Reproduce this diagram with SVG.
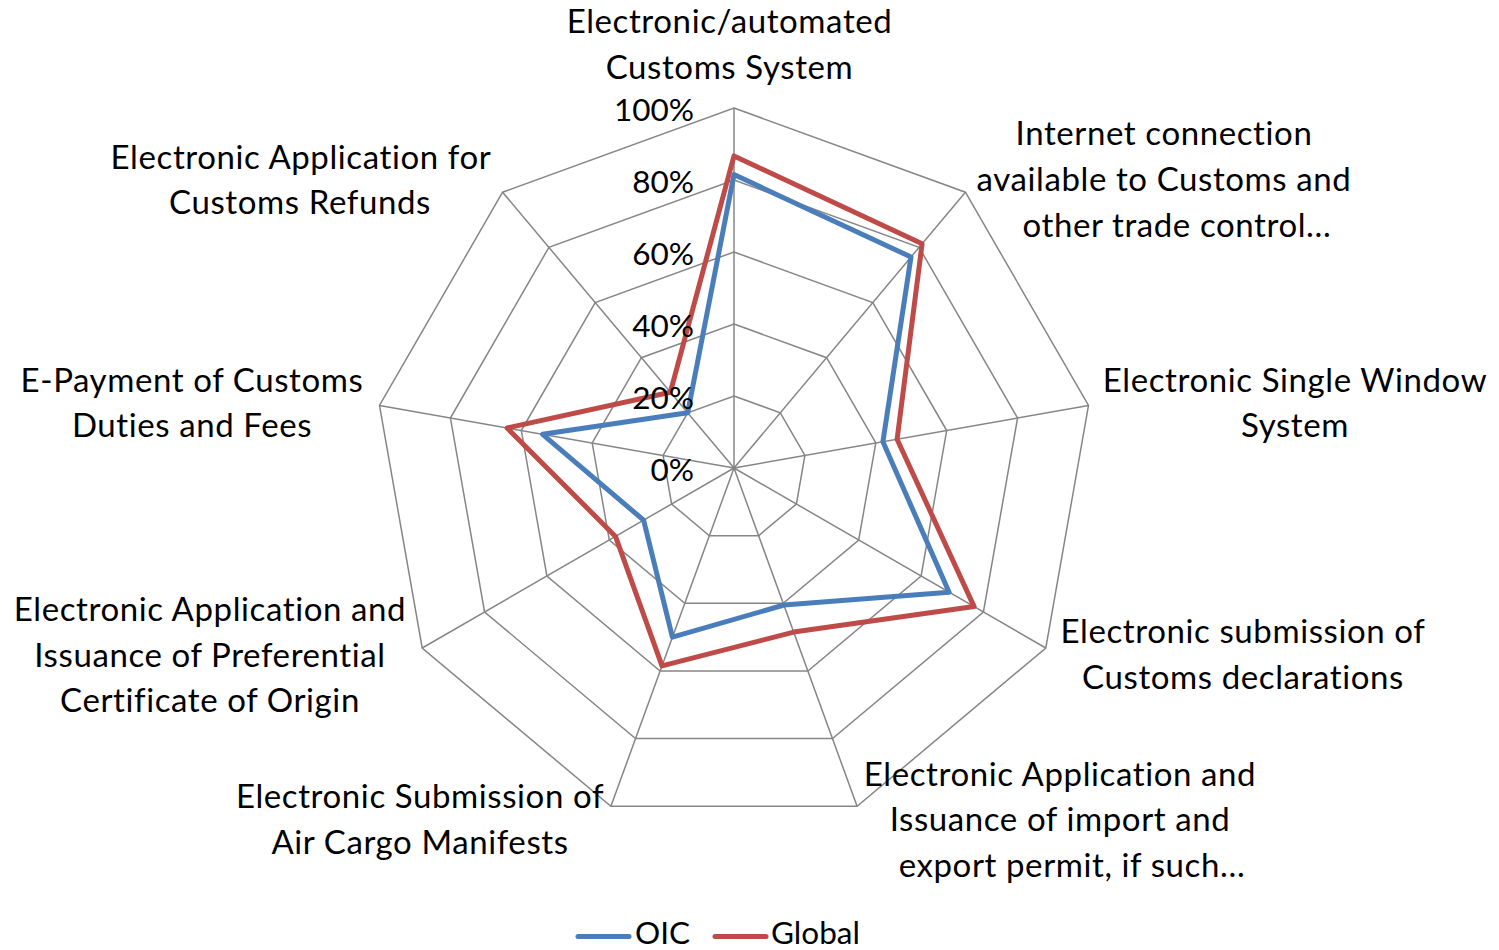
<svg xmlns="http://www.w3.org/2000/svg" width="1499" height="950" viewBox="0 0 1499 950">
<style>
.grid{fill:none;stroke:#868686;stroke-width:1.5}
.lbl{font-family:Lato,"Liberation Sans",sans-serif;font-size:33px;letter-spacing:0.6px;fill:#000;text-anchor:middle}
.tick{font-family:Lato,"Liberation Sans",sans-serif;font-size:31.5px;fill:#000;text-anchor:end}
.leg{font-family:Lato,"Liberation Sans",sans-serif;font-size:31.5px;fill:#000}
.oic{fill:none;stroke:#4a7ebb;stroke-width:5;stroke-linejoin:round;stroke-linecap:round}
.glb{fill:none;stroke:#be4b48;stroke-width:5;stroke-linejoin:round;stroke-linecap:round}
</style>
<rect width="1499" height="950" fill="#fff"/>
<g id="grid">
<polygon class="grid" points="734,108 965.4,192.2 1088.5,405.5 1045.8,648 857.1,806.3 610.9,806.3 422.2,648 379.5,405.5 502.6,192.2"/>
<polygon class="grid" points="734,180 919.1,247.4 1017.6,418 983.4,612 832.5,738.6 635.5,738.6 484.6,612 450.4,418 548.9,247.4"/>
<polygon class="grid" points="734,252 872.8,302.5 946.7,430.5 921.1,576 807.9,671 660.1,671 546.9,576 521.3,430.5 595.2,302.5"/>
<polygon class="grid" points="734,324 826.6,357.7 875.8,443 858.7,540 783.2,603.3 684.8,603.3 609.3,540 592.2,443 641.4,357.7"/>
<polygon class="grid" points="734,396 780.3,412.8 804.9,455.5 796.4,504 758.6,535.7 709.4,535.7 671.6,504 663.1,455.5 687.7,412.8"/>
<path class="grid" d="M734,468L734,108M734,468L965.4,192.2M734,468L1088.5,405.5M734,468L1045.8,648M734,468L857.1,806.3M734,468L610.9,806.3M734,468L422.2,648M734,468L379.5,405.5M734,468L502.6,192.2"/>
</g>
<g id="series">
<polygon id="series-oic" class="oic" points="734,174.6 911,257 882.9,441.8 949.1,592.2 783.9,605 672.4,637.1 643.6,520.2 542.6,434.3 687.7,412.8"/>
<polygon id="series-global" class="glb" points="734,155.9 922.1,243.8 897.1,439.3 974.1,606.6 793.7,632.1 662,665.9 615.5,536.4 507.1,428 670.4,392.2"/>
</g>
<g id="ticks">
<text class="tick" x="694" y="121">100%</text>
<text class="tick" x="694" y="193">80%</text>
<text class="tick" x="694" y="265">60%</text>
<text class="tick" x="694" y="337">40%</text>
<text class="tick" x="694" y="409">20%</text>
<text class="tick" x="694" y="481">0%</text>
</g>
<g id="label-automated"><text class="lbl" x="729.5" y="33">Electronic/automated</text><text class="lbl" x="729.5" y="79">Customs System</text></g>
<g id="label-internet"><text class="lbl" x="1164" y="145">Internet connection</text><text class="lbl" x="1164" y="191">available to Customs and</text><text class="lbl" x="1177" y="237">other trade control…</text></g>
<g id="label-single-window"><text class="lbl" x="1295" y="392">Electronic Single Window</text><text class="lbl" x="1295" y="437">System</text></g>
<g id="label-declarations"><text class="lbl" x="1243" y="643">Electronic submission of</text><text class="lbl" x="1243" y="689">Customs declarations</text></g>
<g id="label-permit"><text class="lbl" x="1060" y="786">Electronic Application and</text><text class="lbl" x="1060" y="831">Issuance of import and</text><text class="lbl" x="1072" y="877">export permit, if such…</text></g>
<g id="label-air-cargo"><text class="lbl" x="420" y="808">Electronic Submission of</text><text class="lbl" x="420" y="854">Air Cargo Manifests</text></g>
<g id="label-origin"><text class="lbl" x="210" y="621">Electronic Application and</text><text class="lbl" x="210" y="667">Issuance of Preferential</text><text class="lbl" x="210" y="712">Certificate of Origin</text></g>
<g id="label-epayment"><text class="lbl" x="192" y="392">E-Payment of Customs</text><text class="lbl" x="192" y="437">Duties and Fees</text></g>
<g id="label-refunds"><text class="lbl" x="301" y="169">Electronic Application for</text><text class="lbl" x="300" y="214">Customs Refunds</text></g>
<g id="legend">
<line class="oic" x1="578" y1="936.5" x2="629" y2="936.5"/>
<text class="leg" x="635" y="944">OIC</text>
<line class="glb" x1="715" y1="936.5" x2="766" y2="936.5"/>
<text class="leg" x="771" y="944">Global</text>
</g>
</svg>
